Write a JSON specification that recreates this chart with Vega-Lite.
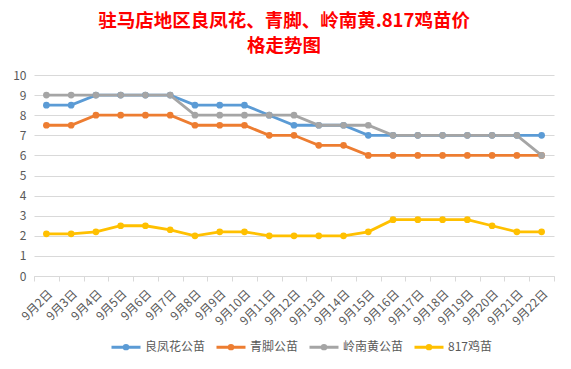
{
  "$schema": "https://vega.github.io/schema/vega-lite/v6.json",
  "width": 520,
  "height": 201,
  "autosize": {"type": "none"},
  "padding": {"left": 34, "top": 75, "right": 17, "bottom": 93},
  "background": "white",
  "title": {
    "text": ["驻马店地区良凤花、青脚、岭南黄.817鸡苗价", "格走势图"],
    "font": "Noto Sans CJK SC",
    "fontSize": 18.5,
    "fontWeight": "bold",
    "color": "#FF0000",
    "lineHeight": 25,
    "anchor": "middle",
    "dx": -10,
    "offset": 14
  },
  "config": {
    "view": {"stroke": null},
    "font": "Noto Sans CJK SC"
  },
  "data": {
    "values": [
      {"date": "9月2日", "series": "良凤花公苗", "price": 8.5},
      {"date": "9月3日", "series": "良凤花公苗", "price": 8.5},
      {"date": "9月4日", "series": "良凤花公苗", "price": 9},
      {"date": "9月5日", "series": "良凤花公苗", "price": 9},
      {"date": "9月6日", "series": "良凤花公苗", "price": 9},
      {"date": "9月7日", "series": "良凤花公苗", "price": 9},
      {"date": "9月8日", "series": "良凤花公苗", "price": 8.5},
      {"date": "9月9日", "series": "良凤花公苗", "price": 8.5},
      {"date": "9月10日", "series": "良凤花公苗", "price": 8.5},
      {"date": "9月11日", "series": "良凤花公苗", "price": 8},
      {"date": "9月12日", "series": "良凤花公苗", "price": 7.5},
      {"date": "9月13日", "series": "良凤花公苗", "price": 7.5},
      {"date": "9月14日", "series": "良凤花公苗", "price": 7.5},
      {"date": "9月15日", "series": "良凤花公苗", "price": 7},
      {"date": "9月16日", "series": "良凤花公苗", "price": 7},
      {"date": "9月17日", "series": "良凤花公苗", "price": 7},
      {"date": "9月18日", "series": "良凤花公苗", "price": 7},
      {"date": "9月19日", "series": "良凤花公苗", "price": 7},
      {"date": "9月20日", "series": "良凤花公苗", "price": 7},
      {"date": "9月21日", "series": "良凤花公苗", "price": 7},
      {"date": "9月22日", "series": "良凤花公苗", "price": 7},
      {"date": "9月2日", "series": "青脚公苗", "price": 7.5},
      {"date": "9月3日", "series": "青脚公苗", "price": 7.5},
      {"date": "9月4日", "series": "青脚公苗", "price": 8},
      {"date": "9月5日", "series": "青脚公苗", "price": 8},
      {"date": "9月6日", "series": "青脚公苗", "price": 8},
      {"date": "9月7日", "series": "青脚公苗", "price": 8},
      {"date": "9月8日", "series": "青脚公苗", "price": 7.5},
      {"date": "9月9日", "series": "青脚公苗", "price": 7.5},
      {"date": "9月10日", "series": "青脚公苗", "price": 7.5},
      {"date": "9月11日", "series": "青脚公苗", "price": 7},
      {"date": "9月12日", "series": "青脚公苗", "price": 7},
      {"date": "9月13日", "series": "青脚公苗", "price": 6.5},
      {"date": "9月14日", "series": "青脚公苗", "price": 6.5},
      {"date": "9月15日", "series": "青脚公苗", "price": 6},
      {"date": "9月16日", "series": "青脚公苗", "price": 6},
      {"date": "9月17日", "series": "青脚公苗", "price": 6},
      {"date": "9月18日", "series": "青脚公苗", "price": 6},
      {"date": "9月19日", "series": "青脚公苗", "price": 6},
      {"date": "9月20日", "series": "青脚公苗", "price": 6},
      {"date": "9月21日", "series": "青脚公苗", "price": 6},
      {"date": "9月22日", "series": "青脚公苗", "price": 6},
      {"date": "9月2日", "series": "岭南黄公苗", "price": 9},
      {"date": "9月3日", "series": "岭南黄公苗", "price": 9},
      {"date": "9月4日", "series": "岭南黄公苗", "price": 9},
      {"date": "9月5日", "series": "岭南黄公苗", "price": 9},
      {"date": "9月6日", "series": "岭南黄公苗", "price": 9},
      {"date": "9月7日", "series": "岭南黄公苗", "price": 9},
      {"date": "9月8日", "series": "岭南黄公苗", "price": 8},
      {"date": "9月9日", "series": "岭南黄公苗", "price": 8},
      {"date": "9月10日", "series": "岭南黄公苗", "price": 8},
      {"date": "9月11日", "series": "岭南黄公苗", "price": 8},
      {"date": "9月12日", "series": "岭南黄公苗", "price": 8},
      {"date": "9月13日", "series": "岭南黄公苗", "price": 7.5},
      {"date": "9月14日", "series": "岭南黄公苗", "price": 7.5},
      {"date": "9月15日", "series": "岭南黄公苗", "price": 7.5},
      {"date": "9月16日", "series": "岭南黄公苗", "price": 7},
      {"date": "9月17日", "series": "岭南黄公苗", "price": 7},
      {"date": "9月18日", "series": "岭南黄公苗", "price": 7},
      {"date": "9月19日", "series": "岭南黄公苗", "price": 7},
      {"date": "9月20日", "series": "岭南黄公苗", "price": 7},
      {"date": "9月21日", "series": "岭南黄公苗", "price": 7},
      {"date": "9月22日", "series": "岭南黄公苗", "price": 6},
      {"date": "9月2日", "series": "817鸡苗", "price": 2.1},
      {"date": "9月3日", "series": "817鸡苗", "price": 2.1},
      {"date": "9月4日", "series": "817鸡苗", "price": 2.2},
      {"date": "9月5日", "series": "817鸡苗", "price": 2.5},
      {"date": "9月6日", "series": "817鸡苗", "price": 2.5},
      {"date": "9月7日", "series": "817鸡苗", "price": 2.3},
      {"date": "9月8日", "series": "817鸡苗", "price": 2.0},
      {"date": "9月9日", "series": "817鸡苗", "price": 2.2},
      {"date": "9月10日", "series": "817鸡苗", "price": 2.2},
      {"date": "9月11日", "series": "817鸡苗", "price": 2.0},
      {"date": "9月12日", "series": "817鸡苗", "price": 2.0},
      {"date": "9月13日", "series": "817鸡苗", "price": 2.0},
      {"date": "9月14日", "series": "817鸡苗", "price": 2.0},
      {"date": "9月15日", "series": "817鸡苗", "price": 2.2},
      {"date": "9月16日", "series": "817鸡苗", "price": 2.8},
      {"date": "9月17日", "series": "817鸡苗", "price": 2.8},
      {"date": "9月18日", "series": "817鸡苗", "price": 2.8},
      {"date": "9月19日", "series": "817鸡苗", "price": 2.8},
      {"date": "9月20日", "series": "817鸡苗", "price": 2.5},
      {"date": "9月21日", "series": "817鸡苗", "price": 2.2},
      {"date": "9月22日", "series": "817鸡苗", "price": 2.2}
    ]
  },
  "mark": {
    "type": "line",
    "strokeWidth": 2.8,
    "point": {"filled": true, "size": 45}
  },
  "encoding": {
    "x": {
      "field": "date",
      "type": "ordinal",
      "sort": null,
      "scale": {"type": "band", "paddingInner": 0, "paddingOuter": 0},
      "bandPosition": 0.5,
      "axis": {
        "title": null,
        "labelAngle": -45,
        "labelFontSize": 12,
        "labelColor": "#595959",
        "labelPadding": 7,
        "domainColor": "#D9D9D9",
        "tickColor": "#D9D9D9",
        "tickSize": 5,
        "tickBand": "extent",
        "grid": false
      }
    },
    "y": {
      "field": "price",
      "type": "quantitative",
      "scale": {"domain": [0, 10], "nice": false},
      "axis": {
        "title": null,
        "values": [0, 1, 2, 3, 4, 5, 6, 7, 8, 9, 10],
        "domain": false,
        "ticks": false,
        "labelPadding": 8,
        "labelFontSize": 12,
        "labelColor": "#595959",
        "gridColor": "#D9D9D9",
        "gridWidth": 1
      }
    },
    "color": {
      "field": "series",
      "type": "nominal",
      "sort": ["良凤花公苗", "青脚公苗", "岭南黄公苗", "817鸡苗"],
      "scale": {
        "domain": ["良凤花公苗", "青脚公苗", "岭南黄公苗", "817鸡苗"],
        "range": ["#5B9BD5", "#ED7D31", "#A5A5A5", "#FFC000"]
      },
      "legend": {
        "title": null,
        "orient": "none",
        "direction": "horizontal",
        "legendX": 76,
        "legendY": 256,
        "symbolType": "M-1,0H1M-0.12,0A0.12,0.12 0 1,1 0.12,0A0.12,0.12 0 1,1 -0.12,0",
        "symbolSize": 841,
        "symbolStrokeWidth": 3,
        "labelFontSize": 12,
        "labelColor": "#595959",
        "labelOffset": 3,
        "columnPadding": 4
      }
    }
  }
}
